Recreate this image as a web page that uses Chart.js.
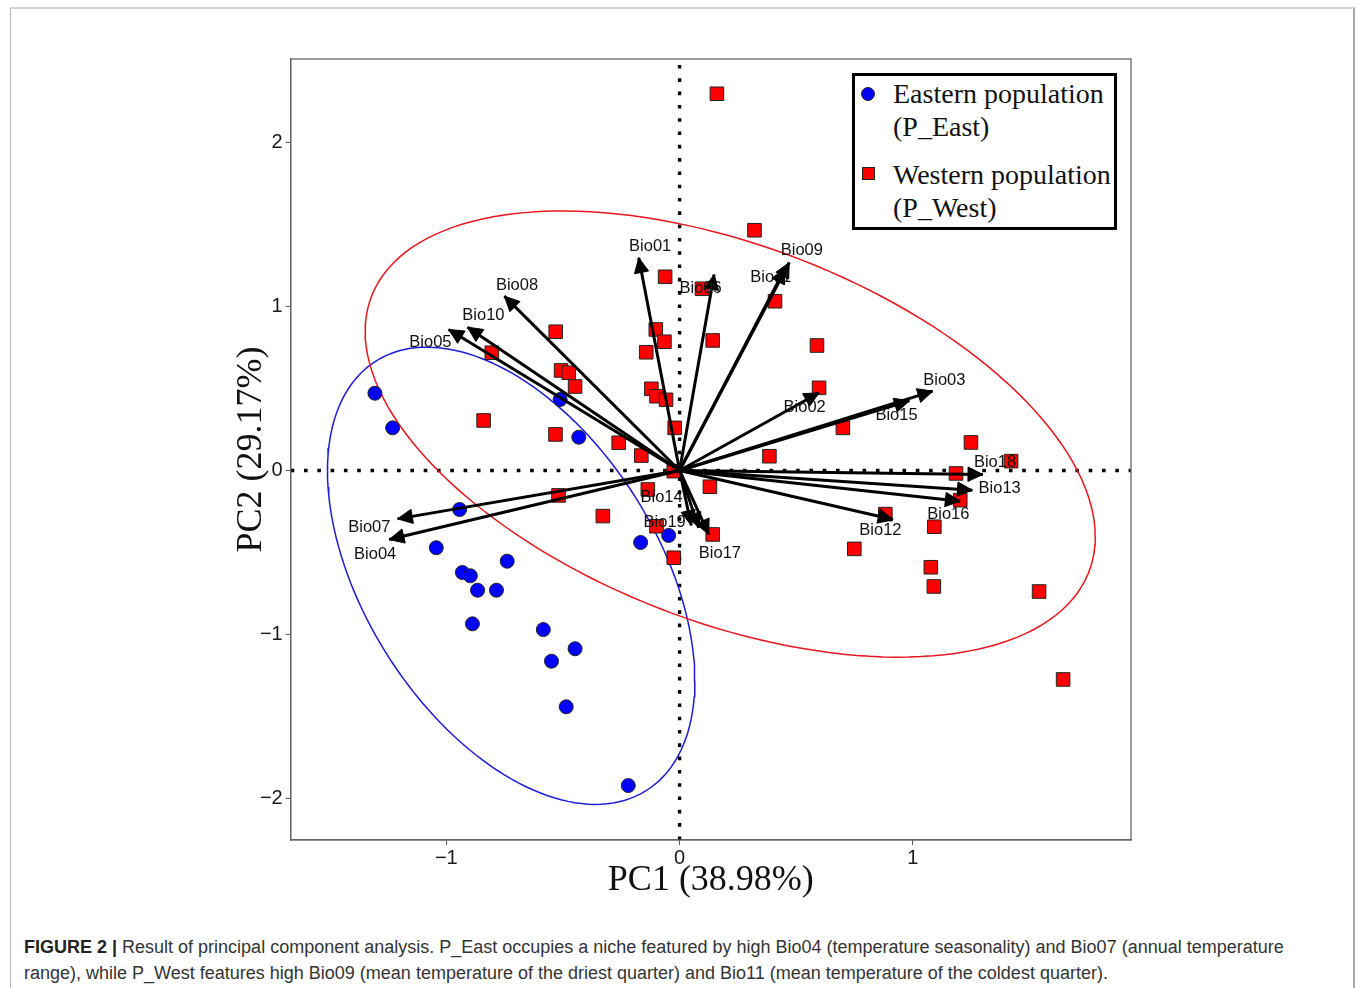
<!DOCTYPE html>
<html>
<head>
<meta charset="utf-8">
<script src="https://cdn.jsdelivr.net/npm/chart.js@4.4.1/dist/chart.umd.min.js"></script>
<style>
    html, body { margin: 0; padding: 0; background: #fff; }
    body { width: 1357px; height: 988px; position: relative; overflow: hidden; font-family: "Liberation Sans", Arial, sans-serif; }
    .frame { position: absolute; left: 10px; top: 7px; width: 1342px; height: 1000px; border-top: 2px solid #d6d6d6; border-left: 1px solid #b8b8b8; border-right: 2px solid #a9a9a9; }
    #wrap { position: absolute; left: 0; top: 0; width: 1357px; height: 900px; }
    .legend { position: absolute; left: 852px; top: 73px; width: 259px; height: 151px; border: 3px solid #000; background: #fff; font-family: "Liberation Serif", "Times New Roman", serif; font-size: 28px; line-height: 33px; color: #111; white-space: nowrap; }
    .legend .dot { position: absolute; left: 6px; top: 11px; width: 14px; height: 14px; box-sizing: border-box; border-radius: 50%; background: #0000ff; border: 1px solid #222; }
    .legend .sq { position: absolute; left: 6.5px; top: 90.5px; width: 13px; height: 13px; box-sizing: border-box; background: #ff0000; border: 1px solid #222; }
    .legend .txt { position: absolute; left: 38px; }
    .caption { position: absolute; left: 24px; top: 934px; font-size: 18px; line-height: 26px; color: #333; white-space: nowrap; }
    .caption b { color: #222; }
</style>
</head>
<body>
<div class="frame"></div>
<div id="wrap"><canvas id="pcaChart" width="1357" height="900"></canvas></div>
<div class="legend">
    <div class="dot"></div>
    <div class="txt" style="top:1px">Eastern population<br>(P_East)</div>
    <div class="sq"></div>
    <div class="txt" style="top:82px">Western population<br>(P_West)</div>
</div>
<div class="caption"><b>FIGURE 2 |</b> Result of principal component analysis. P_East occupies a niche featured by high Bio04 (temperature seasonality) and Bio07 (annual temperature<br>range), while P_West features high Bio09 (mean temperature of the driest quarter) and Bio11 (mean temperature of the coldest quarter).</div>

<script>
/* ====================================
   DATA
==================================== */

const xTicks = [-1, 0, 1];
const yTicks = [-2, -1, 0, 1, 2];

const xRange = [-1.667, 1.935];
const yRange = [-2.253, 2.509];

// Eastern population (P_East)
const eastX = [-1.306, -1.230, -0.512, -0.432, -0.943, -1.043, -0.739, -0.931, -0.897, -0.866,
               -0.785, -0.888, -0.584, -0.448, -0.549, -0.486, -0.220, -0.167, -0.047];
const eastY = [0.471, 0.260, 0.433, 0.203, -0.238, -0.471, -0.553, -0.622, -0.642, -0.730,
               -0.730, -0.935, -0.970, -1.087, -1.163, -1.441, -1.921, -0.439, -0.396];

// Western population (P_West)
const westX = [0.160, 0.321, -0.062, 0.096, 0.409, 0.589, 0.598, 0.142, -0.102, -0.065,
               -0.143, -0.121, -0.099, -0.058, -0.021, -0.261, -0.164, -0.025, 0.385, 0.700,
               1.249, 1.421, 1.185, 1.203, 0.882, 1.092, 0.749, 1.077, 1.090, 1.541,
               1.644, 0.130, -0.136, -0.329, -0.099, 0.142, -0.025, -0.531, -0.805, -0.508,
               -0.475, -0.448, -0.840, -0.532, -0.519];
const westY = [2.297, 1.465, 1.181, 1.108, 1.032, 0.762, 0.504, 0.793, 0.860, 0.785,
               0.721, 0.498, 0.453, 0.431, 0.260, 0.169, 0.091, -0.004, 0.087, 0.260,
               0.171, 0.057, -0.018, -0.181, -0.266, -0.343, -0.478, -0.590, -0.707, -0.738,
               -1.274, -0.099, -0.116, -0.278, -0.340, -0.390, -0.532, 0.846, 0.718, 0.610,
               0.596, 0.512, 0.305, 0.220, -0.152];

// variable loadings (arrow tips) and label anchors
const varNames = ["Bio01", "Bio02", "Bio03", "Bio04", "Bio05", "Bio06", "Bio07", "Bio08", "Bio09", "Bio10",
                  "Bio11", "Bio12", "Bio13", "Bio14", "Bio15", "Bio16", "Bio17", "Bio18", "Bio19"];
const varX = [-0.175, 0.598, 1.085, -1.245, -0.990, 0.148, -1.209, -0.751, 0.470, -0.909,
              0.452, 0.915, 1.255, 0.050, 0.985, 1.203, 0.125, 1.300, 0.082];
const varY = [1.297, 0.474, 0.484, -0.421, 0.860, 1.195, -0.295, 1.063, 1.268, 0.874,
              1.232, -0.299, -0.120, -0.335, 0.425, -0.187, -0.390, -0.024, -0.350];
const labelX = [-0.126, 0.536, 1.135, -1.305, -1.068, 0.090, -1.330, -0.697, 0.524, -0.841,
                0.391, 0.861, 1.372, -0.077, 0.930, 1.152, 0.173, 1.352, -0.064];
const labelY = [1.368, 0.387, 0.549, -0.512, 0.780, 1.108, -0.349, 1.128, 1.341, 0.945,
                1.177, -0.366, -0.108, -0.165, 0.335, -0.265, -0.505, 0.049, -0.317];

// normal data ellipses: centre and covariance [xx, xy, yy]
const eastCentre = [-0.722, -0.642];
const eastCov = [0.620, -0.504, 1.943];
const westCentre = [0.217, 0.222];
const westCov = [2.449, -0.980, 1.850];

/* ====================================
   HELPERS
==================================== */

function ellipsePath(centre, cov) {

    const l11 = Math.sqrt(cov[0]);
    const l21 = cov[1] / l11;
    const l22 = Math.sqrt(cov[2] - l21 * l21);
    const pts = [];

    for (let i = 0; i <= 160; i++) {
        const t = i / 160 * 2 * Math.PI;
        pts.push({
            x: centre[0] + l11 * Math.cos(t),
            y: centre[1] + l21 * Math.cos(t) + l22 * Math.sin(t)
        });
    }

    return pts;
}

const zip = (xs, ys) => xs.map((v, i) => ({ x: v, y: ys[i] }));

const minus = v => v < 0 ? "\u2212" + Math.abs(v) : String(v);

/* ====================================
   DATASETS
==================================== */

const arrowSets = varNames.map((name, i) => ({
    label: name,
    data: [{ x: 0, y: 0 }, { x: varX[i], y: varY[i] }],
    showLine: true,
    borderColor: "#000",
    borderWidth: 3,
    pointRadius: 0,
    order: 1
}));

const datasets = [

    {
        label: "h0",
        data: [{ x: xRange[0], y: 0 }, { x: xRange[1], y: 0 }],
        showLine: true,
        borderColor: "#000",
        borderWidth: 3.4,
        borderDash: [3.6, 9.7],
        pointRadius: 0,
        order: 6
    },

    {
        label: "v0",
        data: [{ x: 0, y: yRange[0] }, { x: 0, y: yRange[1] }],
        showLine: true,
        borderColor: "#000",
        borderWidth: 3.4,
        borderDash: [3.6, 9.7],
        pointRadius: 0,
        order: 6
    },

    {
        label: "westEllipse",
        data: ellipsePath(westCentre, westCov),
        showLine: true,
        borderColor: "#e8161c",
        borderWidth: 1.5,
        pointRadius: 0,
        order: 5
    },

    {
        label: "eastEllipse",
        data: ellipsePath(eastCentre, eastCov),
        showLine: true,
        borderColor: "#1c1cd6",
        borderWidth: 1.5,
        pointRadius: 0,
        order: 5
    },

    {
        label: "Western population (P_West)",
        data: zip(westX, westY),
        pointStyle: "rect",
        pointRadius: 9.6,
        backgroundColor: "#ff0000",
        borderColor: "#222",
        borderWidth: 1,
        order: 3
    },

    {
        label: "Eastern population (P_East)",
        data: zip(eastX, eastY),
        pointStyle: "circle",
        pointRadius: 7,
        backgroundColor: "#0000ff",
        borderColor: "#222",
        borderWidth: 1,
        order: 2
    },

    ...arrowSets

];

/* ====================================
   ARROW HEADS, LABELS, PANEL BORDER
==================================== */

const biplotLayer = {

    id: "biplotLayer",

    afterDatasetsDraw(chart) {

        const { ctx, chartArea, scales: { x, y } } = chart;

        ctx.save();

        const x0 = x.getPixelForValue(0);
        const y0 = y.getPixelForValue(0);

        ctx.fillStyle = "#000";
        ctx.strokeStyle = "#000";
        ctx.lineWidth = 1;
        ctx.lineJoin = "miter";

        varNames.forEach((name, i) => {

            const x1 = x.getPixelForValue(varX[i]);
            const y1 = y.getPixelForValue(varY[i]);
            const ang = Math.atan2(y1 - y0, x1 - x0);
            const len = 16.5;
            const spread = 0.45;

            ctx.beginPath();
            ctx.moveTo(x1, y1);
            ctx.lineTo(x1 - len * Math.cos(ang - spread), y1 - len * Math.sin(ang - spread));
            ctx.lineTo(x1 - len * Math.cos(ang + spread), y1 - len * Math.sin(ang + spread));
            ctx.closePath();
            ctx.fill();
            ctx.stroke();

        });

        ctx.font = '16.5px "Liberation Sans", Arial, sans-serif';
        ctx.textAlign = "center";
        ctx.textBaseline = "middle";
        ctx.fillStyle = "#111";

        varNames.forEach((name, i) => {
            ctx.fillText(name, x.getPixelForValue(labelX[i]), y.getPixelForValue(labelY[i]));
        });

        ctx.strokeStyle = "#666";
        ctx.lineWidth = 1.3;
        ctx.strokeRect(chartArea.left, chartArea.top, chartArea.width, chartArea.height);

        ctx.restore();
    }
};

/* ====================================
   CHART
==================================== */

function createPcaChart() {

    const canvas = document.getElementById("pcaChart");

    if (!canvas) return;

    new Chart(canvas, {

        type: "scatter",

        data: { datasets },

        options: {

            responsive: false,
            animation: false,

            layout: {
                padding: { left: 232, top: 59, right: 226, bottom: 0 }
            },

            plugins: {
                legend: { display: false },
                tooltip: { enabled: false }
            },

            scales: {

                x: {
                    type: "linear",
                    min: xRange[0],
                    max: xRange[1],
                    afterBuildTicks: s => { s.ticks = xTicks.map(v => ({ value: v })); },
                    afterFit: s => { s.height = 60; },
                    grid: { drawOnChartArea: false, drawTicks: true, tickLength: 5, color: "#555" },
                    border: { display: true, color: "#666", width: 1.3 },
                    ticks: {
                        callback: v => minus(v),
                        color: "#1a1a1a",
                        padding: 1,
                        maxRotation: 0,
                        font: { family: '"Liberation Sans", Arial, sans-serif', size: 20 }
                    },
                    title: {
                        display: true,
                        text: "PC1 (38.98%)",
                        color: "#111",
                        padding: 0,
                        font: { family: '"Liberation Serif", "Times New Roman", serif', size: 36, lineHeight: 1.1 }
                    }
                },

                y: {
                    type: "linear",
                    min: yRange[0],
                    max: yRange[1],
                    afterBuildTicks: s => { s.ticks = yTicks.map(v => ({ value: v })); },
                    afterFit: s => { s.width = 58.7; },
                    grid: { drawOnChartArea: false, drawTicks: true, tickLength: 5, color: "#555" },
                    border: { display: true, color: "#666", width: 1.3 },
                    ticks: {
                        callback: v => minus(v),
                        color: "#1a1a1a",
                        padding: 3,
                        font: { family: '"Liberation Sans", Arial, sans-serif', size: 20 }
                    },
                    title: {
                        display: true,
                        text: "PC2 (29.17%)",
                        color: "#111",
                        padding: 0,
                        font: { family: '"Liberation Serif", "Times New Roman", serif', size: 36, lineHeight: 1.1 }
                    }
                }
            }
        },

        plugins: [biplotLayer]

    });

}

document.addEventListener("DOMContentLoaded", () => {

    createPcaChart();

});
</script>
</body>
</html>
